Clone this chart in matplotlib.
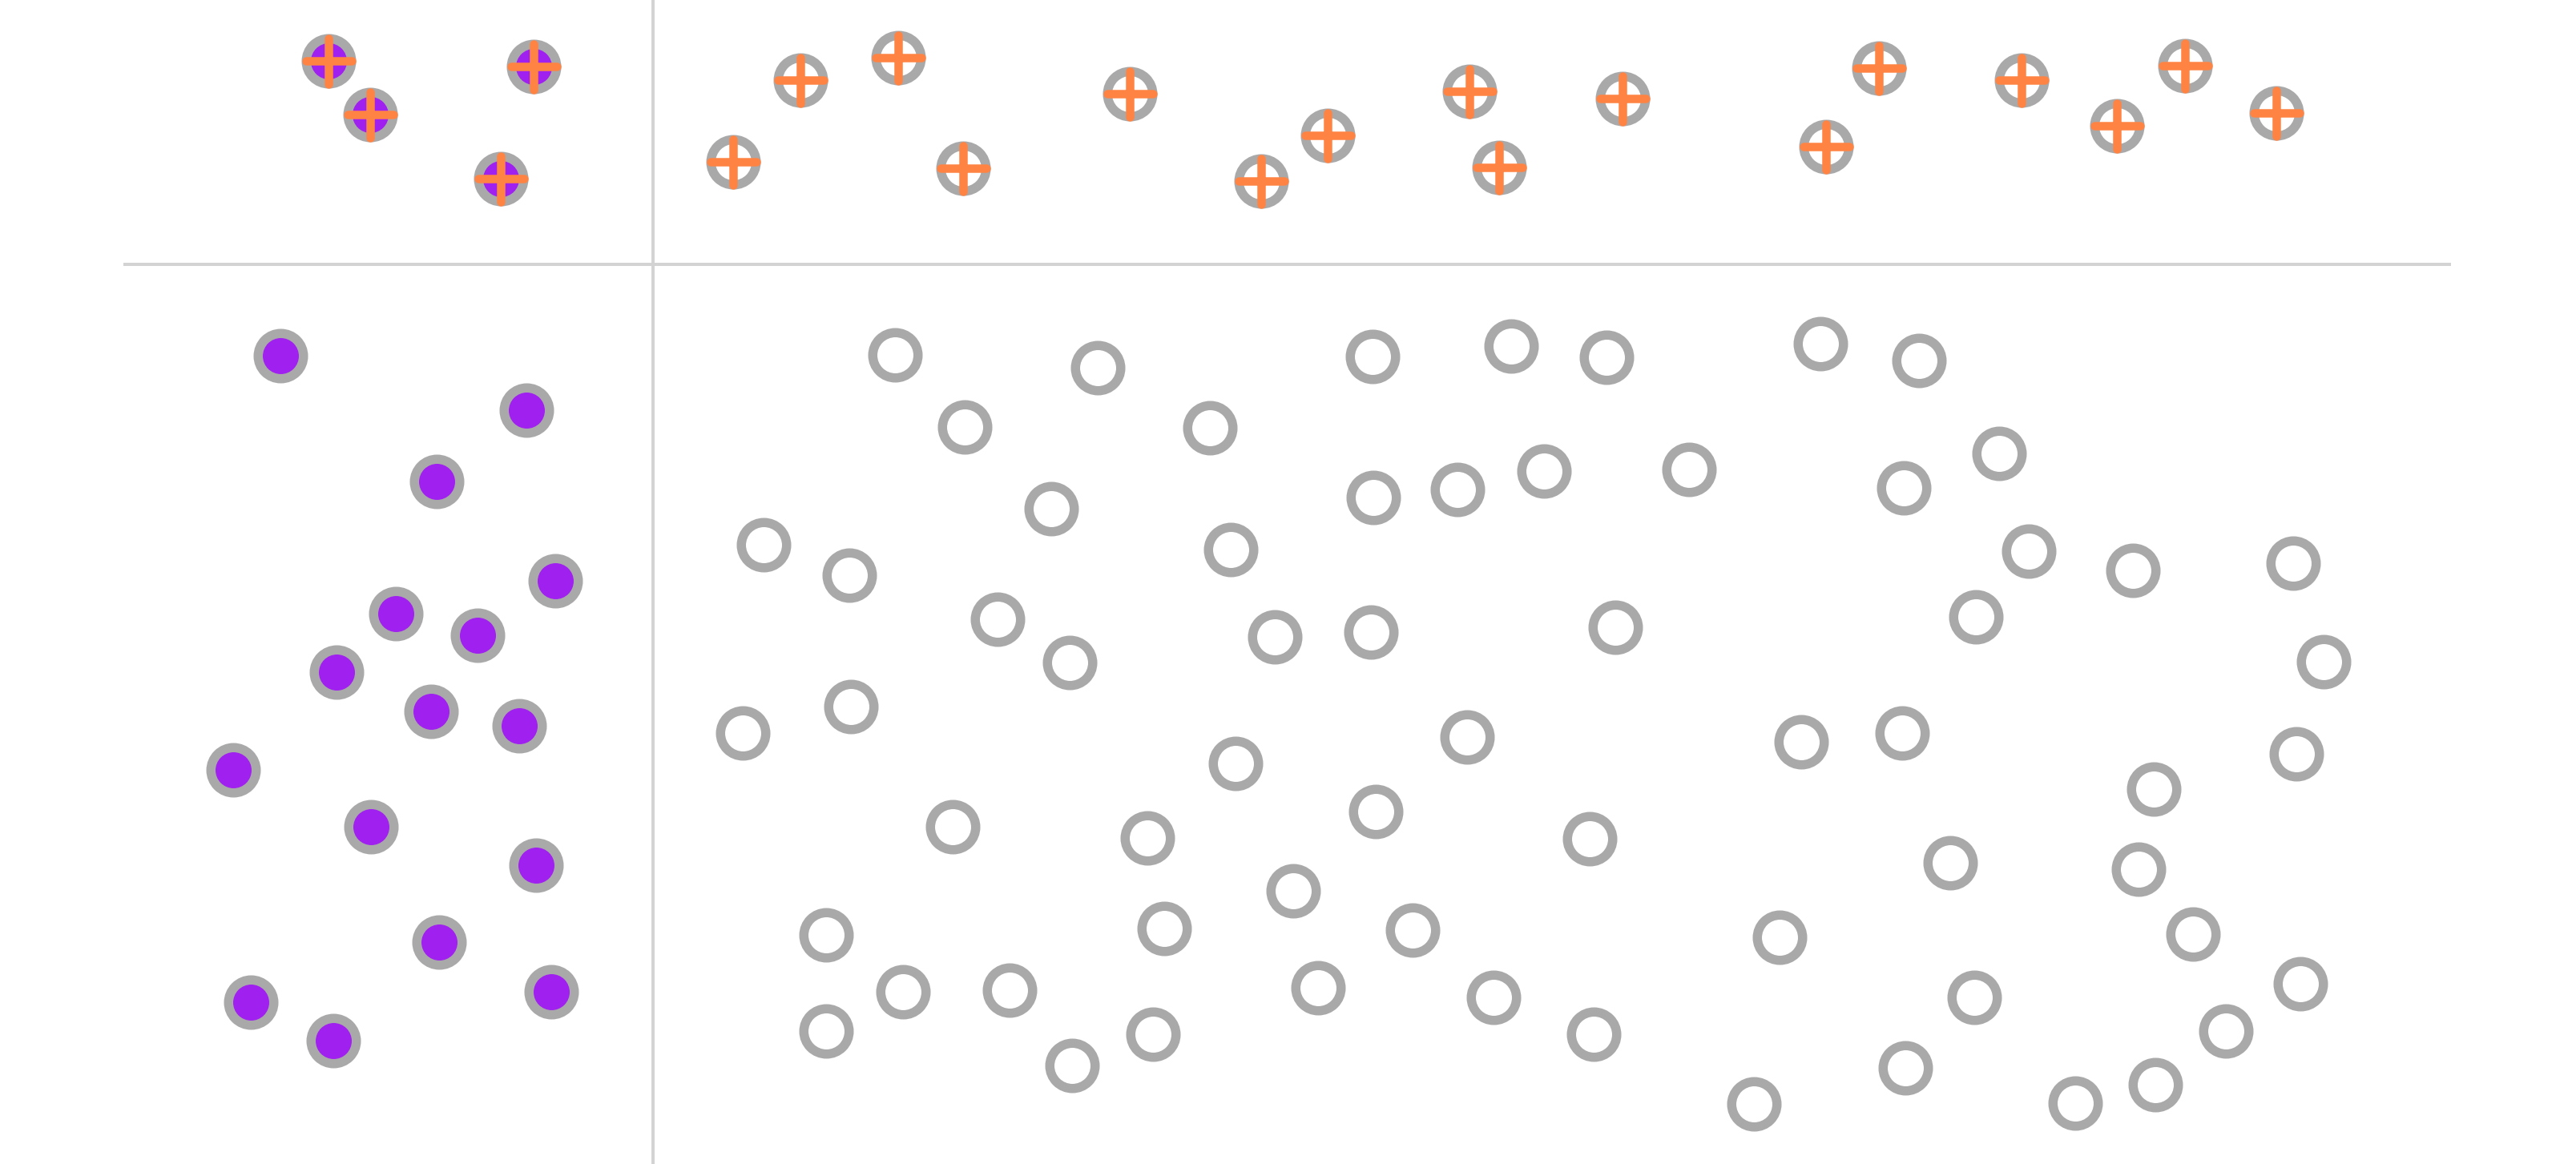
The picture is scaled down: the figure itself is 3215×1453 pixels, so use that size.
"""Quadrant dot chart: four groups of points split by a vertical and a horizontal rule."""

from __future__ import annotations

import matplotlib

matplotlib.use("Agg")

import matplotlib.pyplot as plt
from matplotlib.markers import MarkerStyle

# Chart canvas units (y grows downward)
X_MAX = 1568
Y_MAX = 709

# Quadrant split lines
X_SPLIT = 397.5
Y_SPLIT = 161.0
Y_SPLIT_SPAN = (75.0, 1492.0)

# Top-left: filled purple, crossed
top_left_x = [200.0, 225.5, 324.6, 304.8]
top_left_y = [37.0, 70.0, 40.6, 108.9]

# Top-right: hollow, crossed
top_right_x = [446.5, 487.0, 546.8, 586.0, 687.6, 767.9, 808.1, 894.3, 912.6,
               987.4, 1111.5, 1143.5, 1230.7, 1288.5, 1330.0, 1385.8]
top_right_y = [98.5, 48.6, 35.0, 102.4, 56.9, 110.5, 82.4, 55.6, 102.1,
               59.8, 89.4, 41.3, 48.8, 76.7, 40.0, 68.9]

# Bottom-left: filled purple
bottom_left_x = [170.5, 320.6, 265.6, 338.1, 240.9, 290.7, 205.0, 262.4,
                 316.2, 141.9, 225.6, 326.1, 267.3, 335.5, 152.5, 202.9]
bottom_left_y = [216.8, 249.9, 293.1, 354.0, 373.8, 387.0, 409.2, 433.2,
                 442.0, 468.7, 503.8, 526.9, 573.9, 604.3, 610.2, 633.9]

# Bottom-right: hollow
bottom_right_x = [
    545, 668, 835.5, 920, 978, 1108, 1168,
    587, 736.5, 1217,
    640, 836, 887, 940, 1028, 1159,
    465, 517, 749, 1235, 1298.5, 1396,
    607, 651, 776, 834.5, 983, 1202.5, 1414.5,
    452, 518, 893, 1096.5, 1158, 1398,
    752, 837.5, 1311,
    580, 698.5, 967.5, 1187, 1301.5,
    787, 503, 708.5, 860, 1083, 1335,
    549.5, 614.5, 802.5, 909, 1201.5, 1400,
    503, 702, 970, 1355,
    652.5, 1160, 1312,
    1067.5, 1263,
]
bottom_right_y = [
    216, 224, 217, 211, 217.5, 209.5, 219.5,
    260, 260.5, 276,
    310, 303, 298, 287, 286, 297,
    332, 350.5, 334.5, 335.5, 347.5, 343,
    377, 403.5, 388, 385, 382, 375.5, 403,
    446.5, 430.5, 449, 452, 446.5, 459,
    465, 494.5, 480.5,
    503.5, 510.5, 511, 525.5, 529.5,
    542.5, 569.5, 565.5, 566.5, 571, 569,
    604, 603, 601.5, 607.5, 607.5, 599,
    628, 630, 630, 628,
    649, 650.5, 660.5,
    672.5, 672,
]

PURPLE = "#A020F0"
ORANGE = "#FF8444"
GRAY = "#A9A9A9"
RULE = "#D3D3D3"

DPI = 100
PX = 72.0 / DPI  # points per pixel
DOT_SIZE = 56.5 * PX
DOT_EDGE = 11.5 * PX
PLUS_SIZE = 57.0 * PX
PLUS_WIDTH = 10.5 * PX


def draw_dots(ax, xs, ys, face):
    ax.plot(xs, ys, linestyle="none", marker="o", markersize=DOT_SIZE,
            markerfacecolor=face, markeredgecolor=GRAY,
            markeredgewidth=DOT_EDGE, zorder=3)


def draw_plus(ax, xs, ys):
    ax.plot(xs, ys, linestyle="none",
            marker=MarkerStyle("+", capstyle="round"),
            markersize=PLUS_SIZE, markeredgecolor=ORANGE,
            markeredgewidth=PLUS_WIDTH, zorder=4)


def main() -> None:
    fig = plt.figure(figsize=(3215 / DPI, 1453 / DPI), dpi=DPI)
    ax = fig.add_axes([0, 0, 1, 1])
    ax.set_xlim(0, X_MAX)
    ax.set_ylim(Y_MAX, 0)
    ax.axis("off")

    rule_w = 4 * PX
    ax.axvline(X_SPLIT, color=RULE, linewidth=rule_w, zorder=1)
    ax.plot(Y_SPLIT_SPAN, [Y_SPLIT, Y_SPLIT], color=RULE, linewidth=rule_w,
            solid_capstyle="butt", zorder=1)

    draw_dots(ax, top_left_x, top_left_y, PURPLE)
    draw_plus(ax, top_left_x, top_left_y)
    draw_dots(ax, top_right_x, top_right_y, "white")
    draw_plus(ax, top_right_x, top_right_y)
    draw_dots(ax, bottom_left_x, bottom_left_y, PURPLE)
    draw_dots(ax, bottom_right_x, bottom_right_y, "white")

    fig.savefig("out.png", dpi=DPI, facecolor="white")
    plt.close(fig)


if __name__ == "__main__":
    main()
